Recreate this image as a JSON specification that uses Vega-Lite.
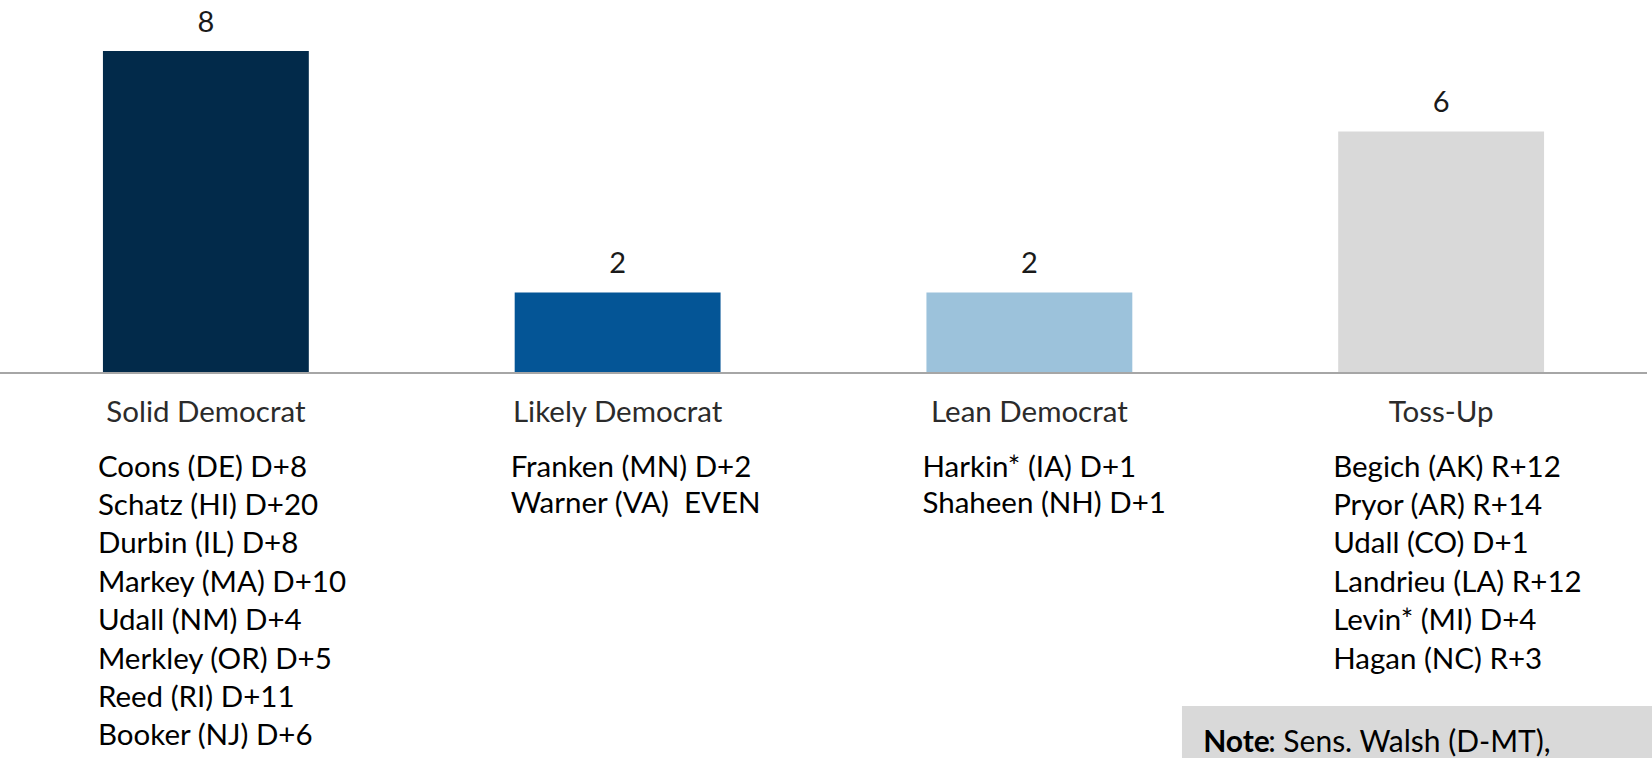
{
  "$schema": "https://vega.github.io/schema/vega-lite/v6.json",
  "width": 1647,
  "height": 373,
  "autosize": {"type": "none"},
  "padding": {"left": 0, "top": 0, "right": 5, "bottom": 385},
  "background": "white",
  "config": {"view": {"stroke": null}, "font": "Lato"},
  "data": {
    "values": [
      {"category": "Solid Democrat", "count": 8, "senators": ["Coons (DE) D+8", "Schatz (HI) D+20", "Durbin (IL) D+8", "Markey (MA) D+10", "Udall (NM) D+4", "Merkley (OR) D+5", "Reed (RI) D+11", "Booker (NJ) D+6"]},
      {"category": "Likely Democrat", "count": 2, "senators": ["Franken (MN) D+2", "Warner (VA) \u00a0EVEN"]},
      {"category": "Lean Democrat", "count": 2, "senators": ["Harkin* (IA) D+1", "Shaheen (NH) D+1"]},
      {"category": "Toss-Up", "count": 6, "senators": ["Begich (AK) R+12", "Pryor (AR) R+14", "Udall (CO) D+1", "Landrieu (LA) R+12", "Levin* (MI) D+4", "Hagan (NC) R+3"]}
    ]
  },
  "layer": [
    {
      "mark": {"type": "bar"},
      "encoding": {
        "x": {"field": "category", "type": "nominal", "sort": null, "scale": {"paddingInner": 0.5, "paddingOuter": 0.25}, "axis": null},
        "y": {"field": "count", "type": "quantitative", "scale": {"domain": [0, 9.27], "nice": false}, "axis": null},
        "color": {"field": "category", "type": "nominal", "scale": {"domain": ["Solid Democrat", "Likely Democrat", "Lean Democrat", "Toss-Up"], "range": ["#022a4a", "#045596", "#9cc2db", "#d9d9d9"]}, "legend": null}
      }
    },
    {
      "mark": {"type": "text", "baseline": "alphabetic", "dy": -19.5, "fontSize": 29, "color": "#1a1a1a"},
      "encoding": {
        "x": {"field": "category", "type": "nominal", "sort": null},
        "y": {"field": "count", "type": "quantitative"},
        "text": {"field": "count", "type": "quantitative"}
      }
    },
    {
      "data": {"values": [{}]},
      "mark": {"type": "rule", "color": "#a6a6a6", "strokeWidth": 2},
      "encoding": {"y": {"datum": 0, "type": "quantitative"}}
    },
    {
      "mark": {"type": "text", "baseline": "alphabetic", "dy": 48.5, "fontSize": 29.5, "color": "#2b2b2b"},
      "encoding": {
        "x": {"field": "category", "type": "nominal", "sort": null},
        "y": {"datum": 0, "type": "quantitative"},
        "text": {"field": "category", "type": "nominal"}
      }
    },
    {
      "transform": [{"filter": "datum.category === 'Solid Democrat' || datum.category === 'Toss-Up'"}],
      "mark": {"type": "text", "baseline": "alphabetic", "align": "left", "dx": -5, "dy": 103.5, "fontSize": 29.5, "lineHeight": 38.4, "color": "#000000"},
      "encoding": {
        "x": {"field": "category", "type": "nominal", "sort": null, "bandPosition": 0},
        "y": {"datum": 0, "type": "quantitative"},
        "text": {"field": "senators", "type": "nominal"}
      }
    },
    {
      "transform": [{"filter": "datum.category === 'Likely Democrat' || datum.category === 'Lean Democrat'"}],
      "mark": {"type": "text", "baseline": "alphabetic", "align": "left", "dx": -4, "dy": 103.5, "fontSize": 29.5, "lineHeight": 36, "color": "#000000"},
      "encoding": {
        "x": {"field": "category", "type": "nominal", "sort": null, "bandPosition": 0},
        "y": {"datum": 0, "type": "quantitative"},
        "text": {"field": "senators", "type": "nominal"}
      }
    },
    {
      "data": {"values": [{}]},
      "mark": {"type": "bar", "color": "#d9d9d9", "width": {"band": 2.283}, "xOffset": -24.15, "yOffset": 333, "y2Offset": 400},
      "encoding": {
        "x": {"datum": "Toss-Up", "type": "nominal"},
        "y": {"datum": 0, "type": "quantitative"},
        "y2": {"datum": 0}
      }
    },
    {
      "data": {"values": [{}]},
      "mark": {"type": "text", "baseline": "alphabetic", "align": "left", "dx": -135, "dy": 379, "fontSize": 30, "fontWeight": "bold", "color": "#000000", "text": "Note"},
      "encoding": {
        "x": {"datum": "Toss-Up", "type": "nominal", "bandPosition": 0},
        "y": {"datum": 0, "type": "quantitative"}
      }
    },
    {
      "data": {"values": [{}]},
      "mark": {"type": "text", "baseline": "alphabetic", "align": "left", "dx": -70, "dy": 379, "fontSize": 30, "color": "#000000", "text": ": Sens. Walsh (D-MT),"},
      "encoding": {
        "x": {"datum": "Toss-Up", "type": "nominal", "bandPosition": 0},
        "y": {"datum": 0, "type": "quantitative"}
      }
    }
  ]
}
